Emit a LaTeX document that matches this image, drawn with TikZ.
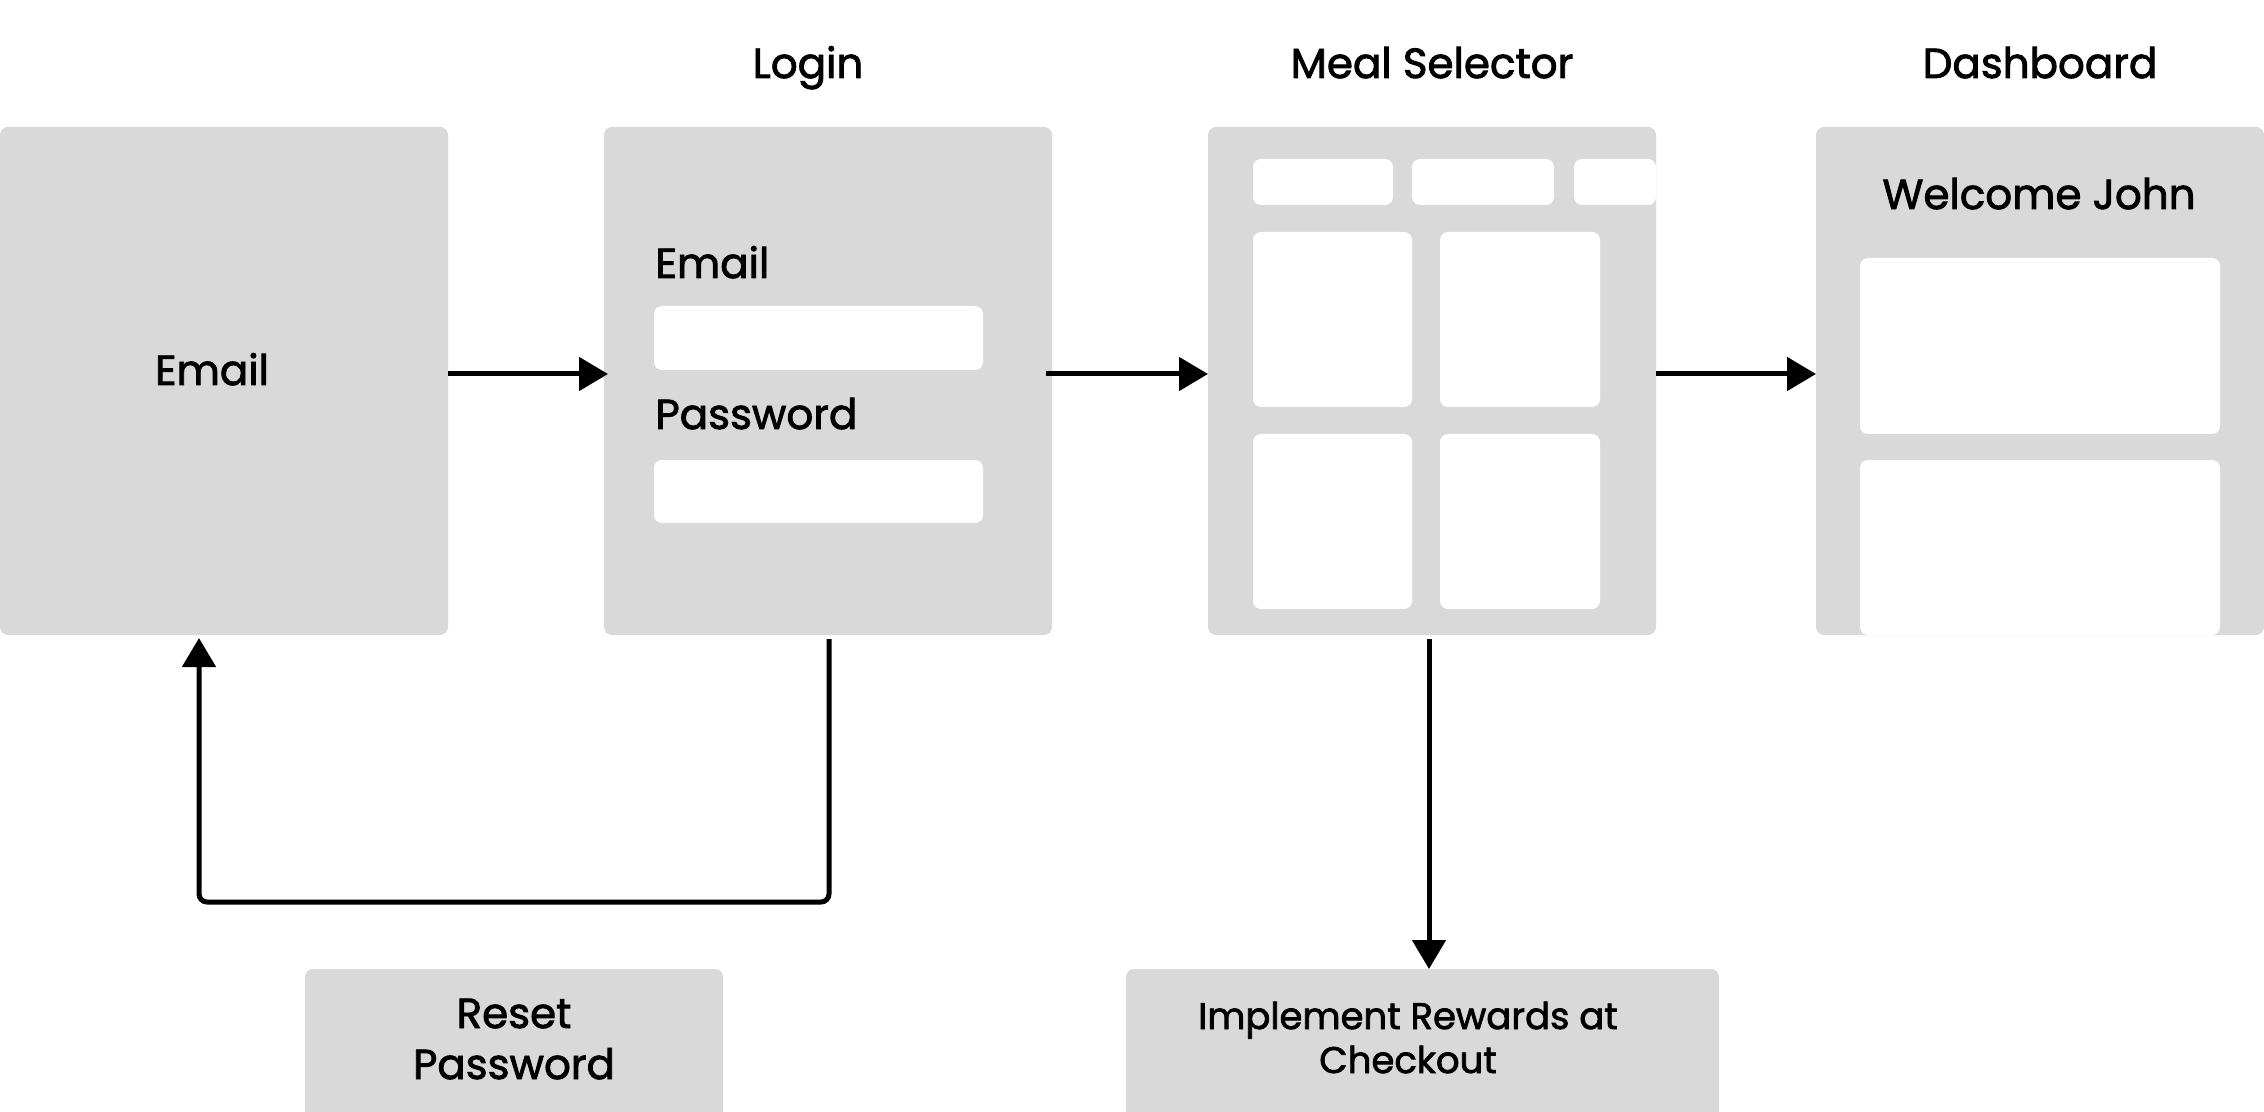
\documentclass[tikz,border=0pt]{standalone}
\usepackage{fontspec}
\setmainfont{Poppins}[FakeBold=2]
\usetikzlibrary{arrows.meta,calc}
\definecolor{boxgrey}{HTML}{D9D9D9}
\pgfdeclarelayer{bg}
\pgfsetlayers{bg,main}
\begin{document}
\begin{tikzpicture}[x=0.5pt,y=-0.5pt,
  screen/.style={fill=boxgrey, rounded corners=4pt, inner sep=0pt, outer sep=0pt, draw=none},
  card/.style={fill=white, rounded corners=4pt},
  conn/.style={line width=2.5pt, -{Triangle[length=14.5pt,width=16.5pt]}},
  title/.style={font=\fontsize{21}{25}\selectfont, anchor=base, inner sep=0pt},
  fieldlbl/.style={title, anchor=base west},
  smalllbl/.style={font=\fontsize{18.5}{22}\selectfont, anchor=base, inner sep=0pt}
]
\useasboundingbox (0,0) rectangle (2264,1112);
\fill[white] (0,0) rectangle (2264,1112);
\clip (0,0) rectangle (2264,1112);

% screens
\node[screen, minimum width=224pt, minimum height=254pt] (email) at (224,381) {};
\node[screen, minimum width=224pt, minimum height=254pt] (login) at (828,381) {};
\node[screen, minimum width=224pt, minimum height=254pt] (meal) at (1432,381) {};
\node[screen, minimum width=224pt, minimum height=254pt] (dash) at (2040,381) {};
\node[screen, minimum width=209pt, minimum height=85.5pt] (reset) at (514,1054.5) {};
\node[screen, minimum width=296.5pt, minimum height=85.5pt] (impl) at (1422.5,1054.5) {};

% soft shadows
\begin{pgfonlayer}{bg}
\foreach \n in {email,login,meal,dash,reset,impl}{
  \foreach \k in {1,...,9}{
    \fill[black, opacity=0.022, rounded corners=4pt+\k*1.2pt]
      ([xshift=-\k*1.2pt, yshift=\k*1.2pt-3pt]\n.north west) rectangle
      ([xshift=\k*1.2pt, yshift=-\k*1.2pt-3pt]\n.south east);
  }
}
\end{pgfonlayer}

% titles
\node[title] (tlogin) at (808,78) {Login};
\node[title] (tmeal) at (1432,78) {Meal Selector};
\node[title] (tdash) at (2040,78) {Dashboard};

% email screen
\node[title] (lemail) at (212,385) {Email};

% login screen
\node[fieldlbl] (lfe) at (655,278) {Email};
\fill[card] (654,306) rectangle (983,370);
\node[fieldlbl] (lfp) at (655,429) {Password};
\fill[card] (654,460) rectangle (983,523);

% meal selector
\fill[card] (1253,159) rectangle (1393,205);
\fill[card] (1412,159) rectangle (1554,205);
\fill[card] (1574,159) rectangle (1656,205);
\fill[card] (1253,232) rectangle (1412,407);
\fill[card] (1440,232) rectangle (1600,407);
\fill[card] (1253,434) rectangle (1412,609);
\fill[card] (1440,434) rectangle (1600,609);

% dashboard
\node[title] (welcome) at (2039,209) {Welcome John};
\fill[card] (1860,258) rectangle (2220,434);
\fill[card] (1860,460) rectangle (2220,635);

% bottom labels
\node[title] (r1) at (514,1028) {Reset};
\node[title] (r2) at (514,1079) {Password};
\node[smalllbl] (i1) at (1408,1029) {Implement Rewards at};
\node[smalllbl] (i2) at (1408,1073) {Checkout};

% connectors
\coordinate (row) at (0,374);
\coordinate (lx) at (829,0);
\coordinate (ex) at (199,0);
\coordinate (ly) at (0,902);
\coordinate (mx) at (1429,0);
\draw[conn, shorten >=-2pt] (email.east |- row) -- (login.west |- row);
\draw[conn] ([xshift=-3pt]login.east |- row) -- (meal.west |- row);
\draw[conn] (meal.east |- row) -- (dash.west |- row);
\draw[conn, rounded corners=4pt, shorten <=2pt, shorten >=1.5pt]
  (lx |- login.south) -- (lx |- ly) -- (ex |- ly) -- (ex |- email.south);
\draw[conn, shorten <=2pt] (mx |- meal.south) -- (mx |- impl.north);
\end{tikzpicture}
\end{document}
